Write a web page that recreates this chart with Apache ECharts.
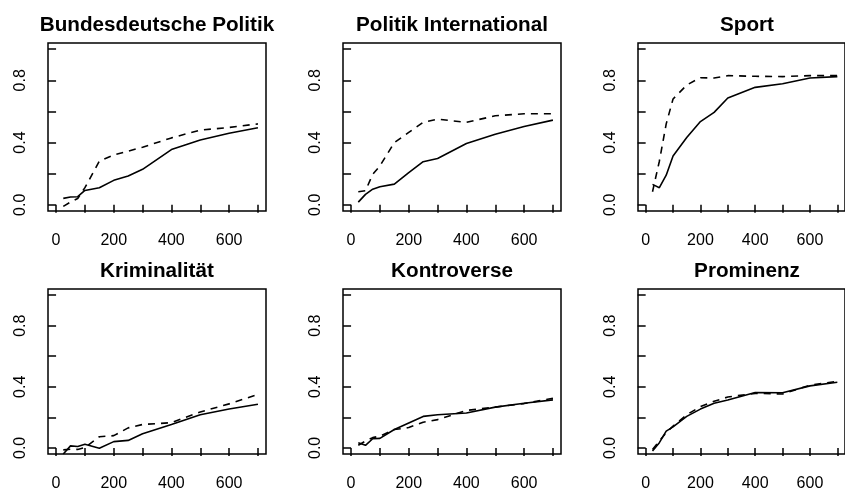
<!DOCTYPE html>
<html>
<head>
<meta charset="utf-8">
<script src="https://cdn.jsdelivr.net/npm/echarts@6/dist/echarts.min.js"></script>
<style>
html,body{margin:0;padding:0;background:#fff;}
#chart{width:845px;height:492px;}
</style>
</head>
<body>
<div id="chart"></div>
<script>
// ---- data ----
const xVals = [25, 50, 75, 100, 150, 200, 250, 300, 400, 500, 600, 700];
const titles = ["Bundesdeutsche Politik", "Politik International", "Sport", "Kriminalität", "Kontroverse", "Prominenz"];
const xTicks = [0, 100, 200, 300, 400, 500, 600, 700];
const xLabels = [0, 200, 400, 600];
const yTicks = [0, 0.2, 0.4, 0.6, 0.8, 1.0];
const yLabels = [0, 0.4, 0.8];

const bpSolid  = [0.041, 0.05, 0.052, 0.092, 0.11, 0.157, 0.185, 0.228, 0.355, 0.417, 0.46, 0.495];
const bpDashed = [-0.01, 0.017, 0.04, 0.11, 0.28, 0.32, 0.345, 0.37, 0.43, 0.48, 0.497, 0.52];
const piSolid  = [0.017, 0.067, 0.1, 0.116, 0.133, 0.206, 0.277, 0.297, 0.394, 0.454, 0.503, 0.544];
const piDashed = [0.084, 0.09, 0.196, 0.25, 0.4, 0.465, 0.53, 0.55, 0.53, 0.572, 0.585, 0.585];
const spSolid  = [0.131, 0.11, 0.19, 0.314, 0.432, 0.535, 0.594, 0.686, 0.755, 0.778, 0.815, 0.824];
const spDashed = [0.084, 0.28, 0.52, 0.68, 0.77, 0.817, 0.815, 0.83, 0.826, 0.824, 0.83, 0.83];
const krSolid  = [-0.04, 0.013, 0.009, 0.024, -0.002, 0.041, 0.049, 0.092, 0.153, 0.217, 0.254, 0.286];
const krDashed = [-0.013, -0.009, -0.01, 0.002, 0.073, 0.08, 0.131, 0.153, 0.165, 0.235, 0.288, 0.35];
const koSolid  = [0.034, 0.017, 0.06, 0.062, 0.12, 0.163, 0.206, 0.217, 0.228, 0.267, 0.292, 0.314];
const koDashed = [0.017, 0.045, 0.067, 0.077, 0.12, 0.133, 0.168, 0.185, 0.245, 0.267, 0.29, 0.325];
const prSolid  = [-0.02, 0.034, 0.11, 0.138, 0.206, 0.254, 0.292, 0.314, 0.363, 0.361, 0.406, 0.43];
const prDashed = [-0.01, 0.045, 0.1, 0.142, 0.217, 0.27, 0.305, 0.333, 0.357, 0.353, 0.41, 0.436];

const solids = [bpSolid, piSolid, spSolid, krSolid, koSolid, prSolid];
const dashes = [bpDashed, piDashed, spDashed, krDashed, koDashed, prDashed];

// ---- layout ----
const colLeft = [48, 343, 638];
const rowTop = [43, 289];
const gw = 218, gh = 168;
const FONT = "Liberation Sans, Arial, sans-serif";

const grids = [], xAxes = [], yAxes = [], series = [], titleArr = [];
for (let i = 0; i < 6; i++) {
  const c = i % 3, r = Math.floor(i / 3);
  grids.push({
    left: colLeft[c], top: rowTop[r], width: gw, height: gh,
    show: true, borderColor: '#000', borderWidth: 1.5, containLabel: false
  });
  xAxes.push({
    type: 'value', gridIndex: i, min: -28, max: 728,
    splitLine: {show: false},
    axisLine: {show: false},
    axisTick: {show: true, length: 8, lineStyle: {color: '#000', width: 1.5}, customValues: xTicks},
    axisLabel: {show: true, customValues: xLabels, margin: 22, color: '#000', fontSize: 16, fontFamily: FONT,
      formatter: v => String(v)}
  });
  yAxes.push({
    type: 'value', gridIndex: i, min: -0.04, max: 1.04,
    splitLine: {show: false},
    axisLine: {show: false},
    axisTick: {show: true, length: 8, lineStyle: {color: '#000', width: 1.5}, customValues: yTicks},
    axisLabel: {show: true, customValues: yLabels, rotate: 90, margin: 19, color: '#000', fontSize: 16, fontFamily: FONT,
      formatter: v => Number(v).toFixed(1)}
  });
  titleArr.push({
    text: titles[i], left: colLeft[c] + gw / 2, top: rowTop[r] - 28, textAlign: 'center', padding: 0,
    textStyle: {fontSize: 20.7, fontWeight: 'bold', color: '#000', fontFamily: FONT}
  });
  series.push({
    type: 'line', xAxisIndex: i, yAxisIndex: i, showSymbol: false, symbol: 'none',
    data: xVals.map((x, k) => [x, solids[i][k]]),
    lineStyle: {color: '#000', width: 1.6, type: 'solid'}
  });
  series.push({
    type: 'line', xAxisIndex: i, yAxisIndex: i, showSymbol: false, symbol: 'none',
    data: xVals.map((x, k) => [x, dashes[i][k]]),
    lineStyle: {color: '#000', width: 1.6, type: [7, 6]}
  });
}

const chart = echarts.init(document.getElementById('chart'), null, {renderer: 'canvas'});
chart.setOption({
  animation: false,
  backgroundColor: '#fff',
  title: titleArr,
  grid: grids,
  xAxis: xAxes,
  yAxis: yAxes,
  series: series
});
</script>
</body>
</html>
